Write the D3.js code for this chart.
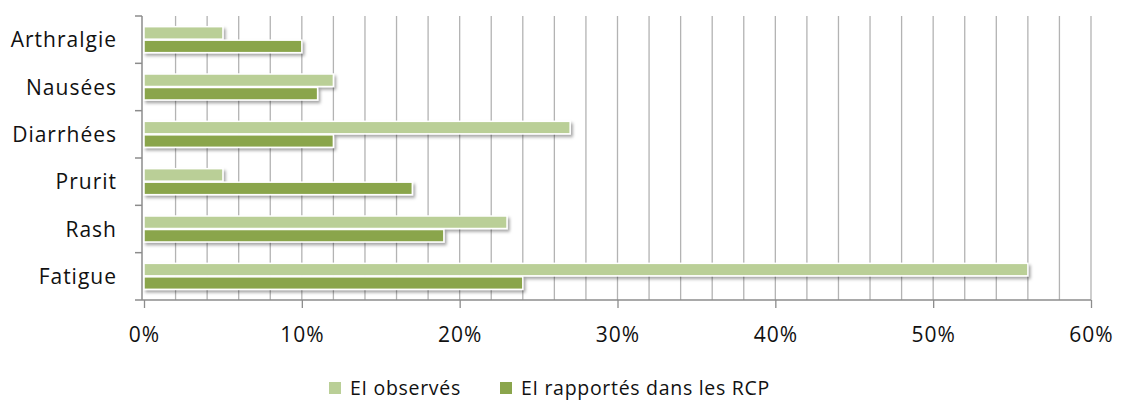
<!DOCTYPE html>
<html><head><meta charset="utf-8">
<script src="https://cdn.jsdelivr.net/npm/d3@7"></script>
<style>
html,body{margin:0;padding:0;background:#fff;}
svg{display:block;}
text{font-family:"Open Sans","Noto Sans",sans-serif;fill:#111;}
</style></head>
<body><svg id="chart" width="1122" height="401"></svg>
<script>
const categories = ["Arthralgie","Nausées","Diarrhées","Prurit","Rash","Fatigue"];
const seriesNames = ["EI observés","EI rapportés dans les RCP"];
const observes = [5,12,27,5,23,56];
const rapportes = [10,11,12,17,19,24];
const xTicks = [0,10,20,30,40,50,60];
const colors = ["#bacf97","#8aa54c"];

const svg = d3.select("#chart");
const m = {left:143, right:31, top:16, bottom:101};
const W = 1122, H = 401;
const x = d3.scaleLinear().domain([0,60]).range([m.left+1, W-m.right]);
const y = d3.scaleBand().domain(categories).range([m.top, H-m.bottom]).paddingInner(0.43).paddingOuter(0.215);
const yStep = y.step();
const y1 = d3.scaleBand().domain(seriesNames).range([0, y.bandwidth()]);

const defs = svg.append("defs");
const f = defs.append("filter").attr("id","sh").attr("x","-5%").attr("y","-50%").attr("width","115%").attr("height","250%");
f.append("feDropShadow").attr("dx",2).attr("dy",2.5).attr("stdDeviation",1.6).attr("flood-color","#000").attr("flood-opacity",0.35);

// gridlines every 2%
const grid = d3.range(2, 61, 2);
svg.append("g").selectAll("line").data(grid).join("line")
  .attr("x1",d=>x(d)).attr("x2",d=>x(d))
  .attr("y1",m.top).attr("y2",H-m.bottom)
  .attr("stroke","#b3b3b3").attr("stroke-width",1.3);

// x axis
const xAxis = d3.axisBottom(x).tickValues(xTicks).tickFormat(d=>d+"%").tickSize(8).tickPadding(19);
const gx = svg.append("g").attr("transform",`translate(0,${H-m.bottom})`).call(xAxis);
gx.select(".domain").attr("stroke","#8c8c8c").attr("stroke-width",1.3).attr("d",`M${m.left-1},0H${x(60)}`);
gx.selectAll(".tick line").attr("stroke","#8c8c8c").attr("stroke-width",1.3);
gx.selectAll(".tick text").attr("font-size",21).attr("letter-spacing","1px").attr("font-family","'Open Sans','Noto Sans',sans-serif").attr("fill","#111");

// y axis
const yAxis = d3.axisLeft(y).tickSize(0).tickPadding(25);
const gy = svg.append("g").attr("transform",`translate(${m.left-1},0)`).call(yAxis);
gy.select(".domain").attr("stroke","#8c8c8c").attr("stroke-width",1.5).attr("d",`M0,${m.top}V${H-m.bottom}`);
gy.selectAll(".tick text").attr("font-size",21).attr("letter-spacing","1px").attr("font-family","'Open Sans','Noto Sans',sans-serif").attr("fill","#111").attr("dy","0.36em");
// category boundary ticks
const bounds = d3.range(categories.length+1).map(i=>m.top + i*yStep);
svg.append("g").selectAll("line").data(bounds).join("line")
  .attr("x1",m.left-8).attr("x2",m.left-1).attr("y1",d=>d).attr("y2",d=>d)
  .attr("stroke","#8c8c8c").attr("stroke-width",1.5);

// bars
const rows = categories.map((c,i)=>({cat:c, vals:[observes[i], rapportes[i]]}));
const g = svg.append("g");
rows.forEach(r=>{
  r.vals.forEach((v,j)=>{
    g.append("rect")
      .attr("x",x(0)).attr("y",y(r.cat)+y1(seriesNames[j])+0.5)
      .attr("width",x(v)-x(0)).attr("height",y1.bandwidth()-1)
      .attr("fill",colors[j]).attr("stroke","#fff").attr("stroke-width",1.5)
      .attr("filter","url(#sh)");
  });
});

// legend
const leg = svg.append("g");
const items = [{n:seriesNames[0],c:colors[0],sx:329,tx:350},{n:seriesNames[1],c:colors[1],sx:500,tx:521}];
items.forEach(it=>{
  leg.append("rect").attr("x",it.sx).attr("y",382).attr("width",12).attr("height",12).attr("fill",it.c);
  leg.append("text").attr("x",it.tx).attr("y",395).attr("font-size",19.5).attr("letter-spacing","0.7px").text(it.n);
});
</script></body></html>
